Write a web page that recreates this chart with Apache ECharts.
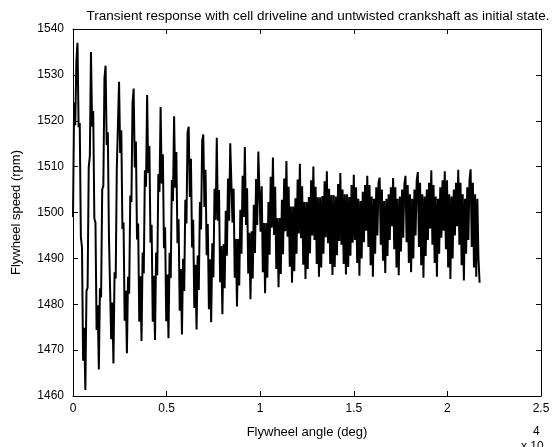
<!DOCTYPE html>
<html>
<head>
<meta charset="utf-8">
<script src="https://cdn.jsdelivr.net/npm/echarts@6/dist/echarts.min.js"></script>
<style>
html,body{margin:0;padding:0;background:#fff;}
#chart{width:554px;height:447px;}
</style>
</head>
<body>
<div id="chart"></div>
<script>
// ---- Data ----
const chartTitle = 'Transient response with cell driveline and untwisted crankshaft as initial state.';
const xAxisTitle = 'Flywheel angle (deg)';
const yAxisTitle = 'Flywheel speed (rpm)';
const xExponent = '4';
const xTickLabels = ['0', '0.5', '1', '1.5', '2', '2.5'];
const yTickLabels = ['1460', '1470', '1480', '1490', '1500', '1510', '1520', '1530', '1540'];
// uniform sampling step of the flywheel angle (deg)
const angleStepDeg = 60;
// flywheel speed (rpm), one value per sample
const flywheelSpeed = [
  1499, 1524, 1519, 1533,
  1537.0, 1518.6, 1519.5, 1494.7, 1492.4, 1467.7, 1474.9, 1461.3, 1482.9, 1483.6, 1509.9, 1512.3,
  1535.0, 1518.7, 1522.1, 1498.7, 1497.8, 1474.4, 1479.8, 1465.8, 1483.5, 1481.5, 1505.0, 1505.8, 1529.3,
  1532.0, 1514.7, 1517.5, 1494.9, 1495.0, 1472.4, 1480.4, 1467.1, 1487.0, 1485.6, 1509.5, 1509.4,
  1528.5, 1513.0, 1517.9, 1496.4, 1497.8, 1476.4, 1483.0, 1469.3, 1486.0, 1482.3, 1503.7, 1502.3, 1523.8,
  1527.0, 1509.8, 1515.5, 1494.1, 1497.6, 1476.2, 1486.1, 1472.0, 1491.3, 1486.7, 1509.2, 1505.6,
  1525.6, 1508.6, 1514.5, 1493.4, 1497.3, 1476.2, 1486.2, 1472.2, 1491.3, 1486.3, 1508.4, 1504.5,
  1523.0, 1506.3, 1512.7, 1492.2, 1496.8, 1476.3, 1486.5, 1472.6, 1491.2, 1485.7, 1507.1, 1502.5,
  1521.0, 1505.4, 1513.2, 1493.3, 1498.5, 1478.6, 1487.7, 1473.4, 1489.9, 1482.9, 1502.8, 1497.6, 1517.5,
  1518.7, 1503.4, 1511.7, 1492.4, 1498.4, 1479.2, 1488.6, 1474.5, 1490.6, 1483.1, 1502.3, 1496.3, 1515.6,
  1517.0, 1501.2, 1509.3, 1490.7, 1497.5, 1478.9, 1489.8, 1476.1, 1493.3, 1485.9, 1505.2, 1498.4,
  1516.3, 1498.2, 1504.9, 1484.8, 1492.7, 1477.8, 1493.1, 1483.5, 1500.4, 1490.6, 1507.4, 1498.2, 1515.1,
  1515.4, 1497.8, 1505.2, 1485.8, 1494.2, 1479.5, 1494.2, 1484.1, 1500.6, 1491.0, 1508.0, 1499.0,
  1514.3, 1497.3, 1505.3, 1486.7, 1495.6, 1481.1, 1495.9, 1485.6, 1501.7, 1491.2, 1507.3, 1497.3, 1513.3,
  1513.2, 1495.8, 1505.7, 1487.0, 1497.7, 1482.4, 1497.7, 1485.8, 1502.3, 1490.8, 1507.8, 1496.7,
  1512.0, 1495.1, 1505.6, 1487.7, 1498.8, 1483.7, 1498.8, 1486.6, 1502.8, 1490.9, 1507.4, 1495.9,
  1511.2, 1494.7, 1505.6, 1488.2, 1501.3, 1484.7, 1501.3, 1487.2, 1503.1, 1491.0, 1507.2, 1495.4,
  1510.6, 1494.4, 1505.7, 1488.6, 1502.3, 1485.5, 1502.3, 1487.7, 1503.4, 1491.1, 1507.0, 1495.0,
  1510.0, 1494.0, 1505.6, 1488.8, 1503.3, 1486.0, 1503.3, 1488.0, 1503.6, 1491.0, 1506.8, 1494.6,
  1509.0, 1493.3, 1505.2, 1488.8, 1503.8, 1486.4, 1503.8, 1488.1, 1503.5, 1490.7, 1506.2, 1493.8,
  1508.6, 1493.0, 1505.0, 1488.8, 1504.0, 1486.5, 1504.0, 1488.1, 1503.4, 1490.6, 1506.0, 1493.4,
  1508.2, 1494.0, 1505.5, 1489.0, 1503.0, 1486.2, 1502.5, 1490.0, 1504.5, 1493.5, 1506.0, 1496.0,
  1508.0, 1492.5, 1506.0, 1488.5, 1503.5, 1486.0, 1503.0, 1491.0, 1505.5, 1495.0, 1506.5,
  1507.6, 1493.0, 1505.0, 1489.5, 1502.5, 1486.8, 1503.0, 1490.5, 1504.0, 1494.0, 1505.5, 1497.0,
  1507.5, 1492.0, 1505.5, 1488.0, 1503.0, 1486.3, 1503.5, 1491.5, 1505.0, 1494.5, 1506.0,
  1508.0, 1493.5, 1506.0, 1489.0, 1504.0, 1487.0, 1503.0, 1490.0, 1505.0, 1495.0, 1507.0,
  1508.8, 1492.5, 1506.5, 1488.5, 1504.0, 1485.8, 1503.5, 1490.5, 1505.0, 1494.0, 1506.5, 1496.5,
  1509.2, 1493.0, 1506.0, 1489.0, 1503.5, 1486.0, 1503.0, 1491.0, 1505.5, 1494.5, 1507.0, 1496.0,
  1509.0, 1492.0, 1507.0, 1488.0, 1504.0, 1485.5, 1503.5, 1490.0, 1505.0, 1495.0, 1506.5, 1497.0,
  1509.3, 1493.0, 1506.5, 1488.5, 1504.0, 1485.2, 1503.0, 1491.0, 1505.5, 1494.0, 1507.0,
  1509.4, 1492.5, 1506.5, 1488.0, 1504.0, 1486.0, 1503.0, 1490.0, 1484.7
];

// ---- Chart ----
const seriesData = flywheelSpeed.map((v, i) => [i * angleStepDeg, v]);
const FONT = '"Liberation Sans", Arial, Helvetica, sans-serif';
const chart = echarts.init(document.getElementById('chart'), null, {renderer: 'canvas'});

const xBase = {
  type: 'value', min: 0, max: 25000, interval: 5000,
  axisLine: {show: true, onZero: false, lineStyle: {color: '#000', width: 1}},
  axisTick: {show: true, inside: true, length: 5, lineStyle: {color: '#000'}},
  splitLine: {show: false}
};
const yBase = {
  type: 'value', min: 1460, max: 1540, interval: 10,
  axisLine: {show: true, onZero: false, lineStyle: {color: '#000', width: 1}},
  axisTick: {show: true, inside: true, length: 5, lineStyle: {color: '#000'}},
  splitLine: {show: false}
};

chart.setOption({
  animation: false,
  backgroundColor: '#fff',
  title: {
    text: chartTitle, left: 313, top: 4, textAlign: 'center',
    textStyle: {fontFamily: FONT, fontSize: 13.5, fontWeight: 'normal', color: '#000'}
  },
  grid: {left: 73, top: 29, width: 468, height: 367, show: false},
  xAxis: [
    Object.assign({}, xBase, {
      position: 'bottom',
      name: xAxisTitle, nameLocation: 'middle', nameGap: 30,
      nameTextStyle: {fontFamily: FONT, fontSize: 13, color: '#000'},
      axisLabel: {
        show: true, margin: 7, fontFamily: FONT, fontSize: 12, color: '#000',
        formatter: v => xTickLabels[Math.round(v / 5000)]
      }
    }),
    Object.assign({}, xBase, {position: 'top', axisLabel: {show: false}})
  ],
  yAxis: [
    Object.assign({}, yBase, {
      position: 'left',
      name: yAxisTitle, nameLocation: 'middle', nameGap: 50, nameRotate: 90,
      nameTextStyle: {fontFamily: FONT, fontSize: 13, color: '#000'},
      axisLabel: {
        show: true, margin: 9, fontFamily: FONT, fontSize: 12, color: '#000',
        formatter: v => yTickLabels[Math.round((v - 1460) / 10)]
      }
    }),
    Object.assign({}, yBase, {position: 'right', axisLabel: {show: false}})
  ],
  graphic: [
    {type: 'text', left: 533, top: 426, style: {text: xExponent, font: '12px ' + FONT, fill: '#000'}},
    {type: 'text', left: 521, top: 441, style: {text: 'x 10', font: '12px ' + FONT, fill: '#000'}}
  ],
  series: [{
    type: 'line', xAxisIndex: 0, yAxisIndex: 0,
    data: seriesData, showSymbol: false, symbol: 'none',
    lineStyle: {color: '#000', width: 2}, silent: true
  }]
});
</script>
</body>
</html>
